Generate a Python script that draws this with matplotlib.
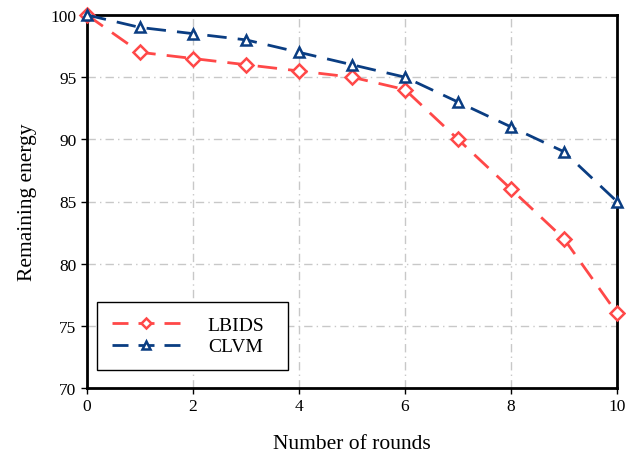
import matplotlib
matplotlib.use("Agg")
import matplotlib.pyplot as plt

rounds = [0, 1, 2, 3, 4, 5, 6, 7, 8, 9, 10]
lbids = [100, 97, 96.5, 96, 95.5, 95, 94, 90, 86, 82, 76]
clvm = [100, 99, 98.5, 98, 97, 96, 95, 93, 91, 89, 85]
xticks = [0, 2, 4, 6, 8, 10]
yticks = [70, 75, 80, 85, 90, 95, 100]

plt.rcParams['font.family'] = ['Liberation Serif', 'DejaVu Serif']
fig = plt.figure(figsize=(6.26, 4.6), dpi=100)
ax = fig.add_axes([87 / 626, 1 - 389 / 460, 530 / 626, 373 / 460])

ax.plot(rounds, lbids, color='#FF4848', lw=2, dashes=(7, 4), marker='D',
        markersize=7, markerfacecolor='white', markeredgecolor='#FF4848',
        markeredgewidth=1.8, label='LBIDS', clip_on=False, zorder=3)
ax.plot(rounds, clvm, color='#0A3D82', lw=2, dashes=(7, 4), marker='^',
        markersize=7, markerfacecolor='white', markeredgecolor='#0A3D82',
        markeredgewidth=1.8, label='CLVM', clip_on=False, zorder=3)

ax.set_xlim(0, 10)
ax.set_ylim(70, 100)
ax.set_xticks(xticks)
ax.set_yticks(yticks)
ax.grid(True, color='#C8C8C8', linestyle=(0, (6, 3, 1, 3)), lw=1)
for s in ax.spines.values():
    s.set_linewidth(2)
ax.tick_params(labelsize=12.5, direction='out', length=4, width=1)
ax.set_xlabel('Number of rounds', fontsize=15.5, labelpad=14)
ax.set_ylabel('Remaining energy', fontsize=15.5, labelpad=10)

leg = ax.legend(loc='lower left', bbox_to_anchor=(10 / 530, 18 / 373, 191 / 530, 73 / 373),
                mode='expand', fontsize=14, fancybox=False, edgecolor='black',
                framealpha=1, handlelength=3.5, borderpad=0.75, labelspacing=0.2,
                handletextpad=1.45, borderaxespad=0, markerscale=0.8)
leg.get_frame().set_linewidth(1)
for ln in leg.get_lines():
    ln.set_dashes((5.76, 3.6))

fig.savefig('out.png', dpi=100)
